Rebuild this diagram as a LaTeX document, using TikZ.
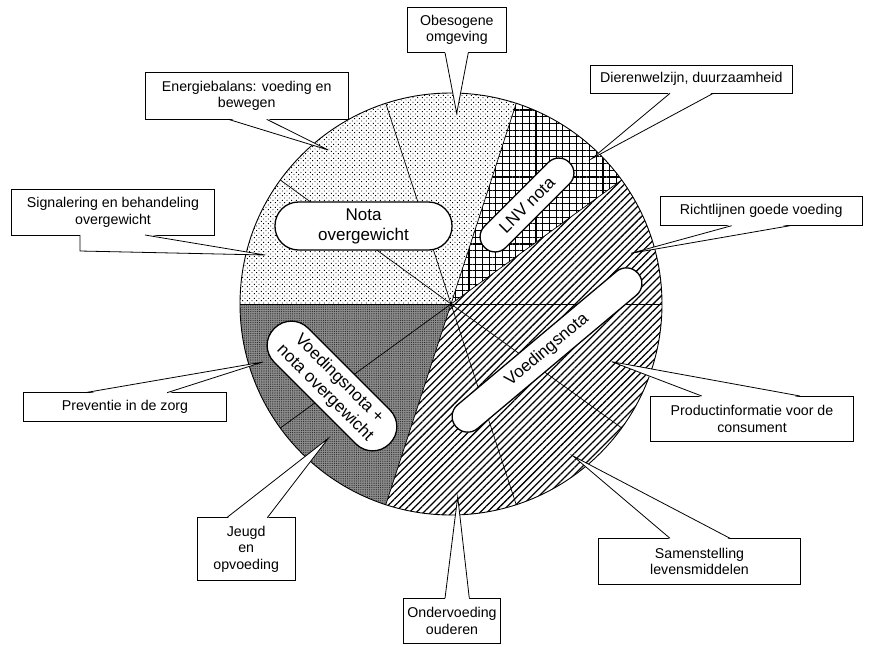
\documentclass[tikz,border=0pt]{standalone}
\usepackage{fontspec}
\setmainfont{Liberation Sans}
\usetikzlibrary{patterns.meta,calc}
\newcommand\mywedge[4]{%
  \fill[white] ([yshift=#4]#1) -- (#2) -- ([yshift=#4]#3) -- cycle;
  \draw[wedgeline] (#1) -- (#2) -- (#3);}
\begin{document}
\begin{tikzpicture}[x=1pt,y=-1pt,
  callout/.style={draw, line width=0.8pt, fill=white, inner sep=0pt, align=center,
    font=\fontsize{14.2pt}{16.5pt}\selectfont},
  pill/.style={draw, line width=1.3pt, fill=white, inner sep=0pt, align=center,
    font=\fontsize{17pt}{20pt}\selectfont},
  radial/.style={line width=0.7pt},
  wedgeline/.style={line width=0.8pt},
  lightdots/.style={pattern={Dots[distance=3.3pt,radius=0.65pt,angle=45]}},
  stripes/.style={pattern={Lines[angle=45,distance=5pt,line width=1.25pt]}},
  grid/.style={pattern={Hatch[angle=0,distance=6.7pt,line width=1.05pt]}},
  darkdots/.style={pattern={Dots[distance=2.2pt,radius=0.6pt]}, pattern color=black!85}
]
\useasboundingbox (0,0) rectangle (871,646);
\def\R{211}
\coordinate (C) at (451,304);
% sectors
\fill[lightdots] (C) -- ++(-72:\R) arc[start angle=-72,end angle=-180,radius=\R] -- cycle;
\fill[grid] (C) -- ++(-36:\R) arc[start angle=-36,end angle=-72,radius=\R] -- cycle;
\fill[stripes] (C) -- ++(-252:\R) arc[start angle=-252,end angle=-396,radius=\R] -- cycle;
\fill[black!45] (C) -- ++(-180:\R) arc[start angle=-180,end angle=-252,radius=\R] -- cycle;
\fill[darkdots] (C) -- ++(-180:\R) arc[start angle=-180,end angle=-252,radius=\R] -- cycle;
% radial lines
\foreach \a in {0,36,...,324} \draw[radial] (C) -- ++(-\a:\R);
\draw[line width=0.9pt] (C) circle[radius=\R];
% pills
\node[pill, minimum width=177pt, minimum height=48pt, rounded corners=23.5pt] (pnota) at (363.5,226) {Nota\\overgewicht};
\node[pill, minimum width=120pt, minimum height=30pt, rounded corners=14.7pt, rotate=45] (plnv) at (527,205) {LNV nota};
\node[pill, minimum width=238pt, minimum height=31pt, rounded corners=15.2pt, rotate=40] (pvoed) at (547,350) {Voedingsnota};
\node[pill, minimum width=163pt, minimum height=48pt, rounded corners=23.5pt, rotate=-45] (pvn) at (332,386) {Voedingsnota +\\nota overgewicht};
% callout boxes
\node[callout, minimum width=98.3pt, minimum height=45.4pt] (obes) at (456.9,30) {Obesogene\\omgeving};
\node[callout, minimum width=203.3pt, minimum height=46.6pt] (energ) at (246.7,96) {Energiebalans: voeding en\\bewegen};
\node[callout, minimum width=202.6pt, minimum height=45.7pt] (sign) at (113,212.2) {Signalering en behandeling\\overgewicht};
\node[callout, minimum width=202.7pt, minimum height=28.3pt] (dier) at (691.3,79.2) {Dierenwelzijn, duurzaamheid};
\node[callout, minimum width=202.3pt, minimum height=29pt] (richt) at (761.2,211.2) {Richtlijnen goede voeding};
\node[callout, minimum width=202.6pt, minimum height=45.7pt] (prod) at (752,418.8) {Productinformatie voor de\\consument};
\node[callout, minimum width=202.4pt, minimum height=45.7pt] (samen) at (699.5,561.2) {Samenstelling\\levensmiddelen};
\node[callout, minimum width=97.4pt, minimum height=45pt] (onder) at (452,620.8) {Ondervoeding\\ouderen};
\node[callout, minimum width=97.7pt, minimum height=63pt] (jeugd) at (246.2,549.2) {Jeugd\\en\\opvoeding};
\node[callout, minimum width=203.4pt, minimum height=29pt] (prev) at (125,407.2) {Preventie in de zorg};
% wedge coordinates
\coordinate (obesA) at (445,52.7);   \coordinate (obesB) at (468.3,52.7);  \coordinate (obesT) at (456.7,113.3);
\coordinate (energA) at (228.3,119.3); \coordinate (energB) at (266.7,119.3); \coordinate (energT) at (328.3,150);
\coordinate (dierA) at (670,93.3);   \coordinate (dierB) at (713.3,93.3);  \coordinate (dierT) at (591.7,158.7);
\coordinate (richtA) at (731.7,225.7); \coordinate (richtB) at (790,225.7); \coordinate (richtT) at (631,253.3);
\coordinate (prodA) at (701.7,396);  \coordinate (prodB) at (800,396);     \coordinate (prodT) at (611.7,361.7);
\coordinate (samenA) at (670,538.3); \coordinate (samenB) at (730,538.3);  \coordinate (samenT) at (573,456);
\coordinate (onderA) at (445,598.3); \coordinate (onderB) at (469.3,598.3); \coordinate (onderT) at (457.7,496.7);
\coordinate (jeugdA) at (226.7,517.7); \coordinate (jeugdB) at (267.3,517.7); \coordinate (jeugdT) at (328.3,438.3);
\coordinate (prevA) at (85,392.7);   \coordinate (prevB) at (167,392.7);   \coordinate (prevT) at (263,362);
\coordinate (signA) at (80,235); \coordinate (signV) at (80,251); \coordinate (signB) at (145,235); \coordinate (signT) at (265,255);
% wedges
\mywedge{obesA}{obesT}{obesB}{1.2pt}
\mywedge{energA}{energT}{energB}{1.2pt}
\mywedge{dierA}{dierT}{dierB}{1.2pt}
\mywedge{richtA}{richtT}{richtB}{1.2pt}
\mywedge{prodA}{prodT}{prodB}{-1.2pt}
\mywedge{samenA}{samenT}{samenB}{-1.2pt}
\mywedge{onderA}{onderT}{onderB}{-1.2pt}
\mywedge{jeugdA}{jeugdT}{jeugdB}{-1.2pt}
\mywedge{prevA}{prevT}{prevB}{-1.2pt}
\fill[white] ([yshift=1.2pt]signA) -- (signV) -- (signT) -- ([yshift=1.2pt]signB) -- cycle;
\draw[wedgeline] (signA) -- (signV) -- (signT) -- (signB);
\end{tikzpicture}
\end{document}
